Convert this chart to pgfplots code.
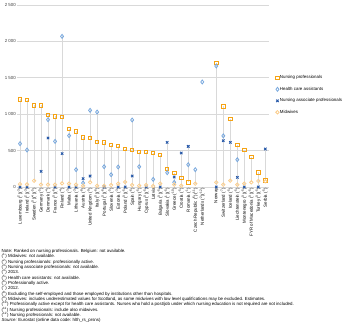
\documentclass[border=0pt]{standalone}
\usepackage{fontspec}
\setmainfont{Liberation Sans}
\usepackage{pgfplots}
\pgfplotsset{compat=1.18}
\usepackage{pgfplotstable}
\definecolor{cnp}{RGB}{245,163,20}
\definecolor{chca}{RGB}{120,168,222}
\definecolor{cnap}{RGB}{38,88,168}
\definecolor{cmw}{RGB}{250,205,140}
\definecolor{cgrid}{RGB}{217,217,217}
\newcommand{\fn}[1]{(\textsuperscript{#1})}
\pgfplotstableread{
x np hca nap mw lo hi
0 1204 595 0 40 0 1204
1 1200 508 0 35 0 1200
2 1121 nan nan 86 86 1121
3 1121 nan 215 32 32 1121
4 989 925 673 32 32 989
5 970 627 0 32 0 970
6 962 2069 458 50 50 2069
7 801 705 0 46 0 801
8 764 238 0 32 0 764
9 682 55 114 18 18 682
10 673 1053 151 64 64 1053
11 618 1030 nan 18 18 1030
12 614 279 0 18 0 614
13 580 169 nan 27 27 580
14 567 275 0 46 0 567
15 522 nan 0 69 0 522
16 512 920 151 27 27 920
17 485 279 nan 18 18 485
18 485 nan 0 27 0 485
19 470 105 nan 14 14 470
20 444 nan 0 46 0 444
21 250 197 613 nan 197 613
22 192 64 137 32 32 192
23 124 nan 467 18 18 467
24 64 306 558 nan 64 558
25 nan 238 nan 46 46 238
26 nan 1443 nan nan 1443 1443
28 1704 1662 0 64 0 1704
29 1108 702 636 32 32 1108
30 934 nan 613 87 87 934
31 577 375 132 32 32 577
32 512 nan 0 46 0 512
33 412 nan nan 64 64 412
34 201 nan 0 82 0 201
35 91 nan 522 78 78 522
}\data
\begin{document}
\begin{tikzpicture}[x=1bp,y=1bp]
\useasboundingbox (0,0) rectangle (350,326);
\begin{axis}[
  at={(17bp,139bp)}, anchor=south west,
  scale only axis, width=252bp, height=182bp,
  xmin=-0.43, xmax=35.52, ymin=0, ymax=2500,
  ytick={0,500,1000,1500,2000,2500},
  ymajorgrids, grid style={cgrid, line width=0.7bp},
  axis line style={draw=none}, tick style={draw=none},
  /pgf/number format/assume math mode=true,
  /pgf/number format/1000 sep={\ },
  yticklabel style={font=\fontsize{4.4bp}{5bp}\selectfont, color=black!75, inner sep=1bp},
  xtick={0,1,2,3,4,5,6,7,8,9,10,11,12,13,14,15,16,17,18,19,20,21,22,23,24,25,26,28,29,30,31,32,33,34,35},
  xticklabels={Luxembourg \fn{2}\fn{3},Ireland \fn{2}\fn{3},Sweden \fn{3}\fn{4}\fn{5},Germany \fn{5},Denmark \fn{4},France \fn{3}\fn{6},Finland \fn{4},Malta \fn{3},Lithuania \fn{3},Austria \fn{8},United Kingdom \fn{9},Italy \fn{3}\fn{6},Portugal \fn{3}\fn{6},Slovenia \fn{5},Estonia \fn{3},Poland \fn{3}\fn{5},Spain \fn{6},Hungary \fn{5},Cyprus \fn{3}\fn{5},Latvia,Bulgaria \fn{3}\fn{5},Slovakia \fn{1}\fn{5},Greece \fn{10},Croatia \fn{5},Romania \fn{1},Czech Republic \fn{6}\fn{11},Netherlands \fn{2}\fn{12},Norway,Switzerland \fn{7},Iceland \fn{5},Liechtenstein \fn{5},Montenegro \fn{3}\fn{5},FYR of Macedonia \fn{3}\fn{5},Turkey \fn{3}\fn{5},Serbia \fn{5}},
  xticklabel style={rotate=90, anchor=east, font=\fontsize{4.4bp}{5bp}\selectfont, inner sep=1bp},
  unbounded coords=discard,
  legend cell align=left,
  legend style={at={(1.026,0.618)}, anchor=north west, draw=none, fill=none,
    font=\fontsize{4.4bp}{5bp}\selectfont, row sep=5.2bp, inner sep=0pt,
    nodes={inner sep=0.8bp}},
]
\addplot[draw=none, mark=none, forget plot,
  error bars/.cd, y dir=plus, y explicit,
  error bar style={draw=cgrid, line width=0.8bp, solid}, error mark=none]
  table[x=x, y=lo, y error expr=\thisrow{hi}-\thisrow{lo}] {\data};
\addplot[only marks, mark=square, mark size=1.7bp, mark options={draw=cnp, fill=white, line width=0.85bp}]
  table[x=x, y=np] {\data};
\addlegendentry{Nursing professionals}
\addplot[only marks, mark=diamond, mark size=2.0bp, mark options={draw=chca, fill=white, line width=0.8bp}]
  table[x=x, y=hca] {\data};
\addlegendentry{Health care assistants}
\addplot[only marks, mark=x, mark size=1.7bp, mark options={draw=cnap, line width=0.9bp}]
  table[x=x, y=nap] {\data};
\addlegendentry{Nursing associate professionals}
\addplot[only marks, mark=o, mark size=1.7bp, mark options={draw=cmw, fill=white, line width=0.8bp}]
  table[x=x, y=mw] {\data};
\addlegendentry{Midwives}
\end{axis}
\node[anchor=north west, inner sep=0pt, align=left, font=\fontsize{4.4bp}{5.35bp}\selectfont] at (1.5,77) {%
Note: Ranked on nursing professionals. Belgium: not available.\\
\fn{1} Midwives: not available.\\
\fn{2} Nursing professionals: professionally active.\\
\fn{3} Nursing associate professionals: not available.\\
\fn{4} 2013.\\
\fn{5} Health care assistants: not available.\\
\fn{6} Professionally active.\\
\fn{7} 2012.\\
\fn{8} Excluding the self-employed and those employed by institutions other than hospitals.\\
\fn{9} Midwives: includes underestimated values for Scotland, as some midwives with low level qualifications may be excluded. Estimates.\\
\fn{10} Professionally active except for health care assistants. Nurses who hold a post/job under which nursing education is not required are not included.\\
\fn{11} Nursing professionals: include also midwives.\\
\fn{12} Nursing professionals: not available.\\
\textit{Source:} Eurostat (online data code: hlth\_rs\_prsns)};
\end{tikzpicture}
\end{document}
